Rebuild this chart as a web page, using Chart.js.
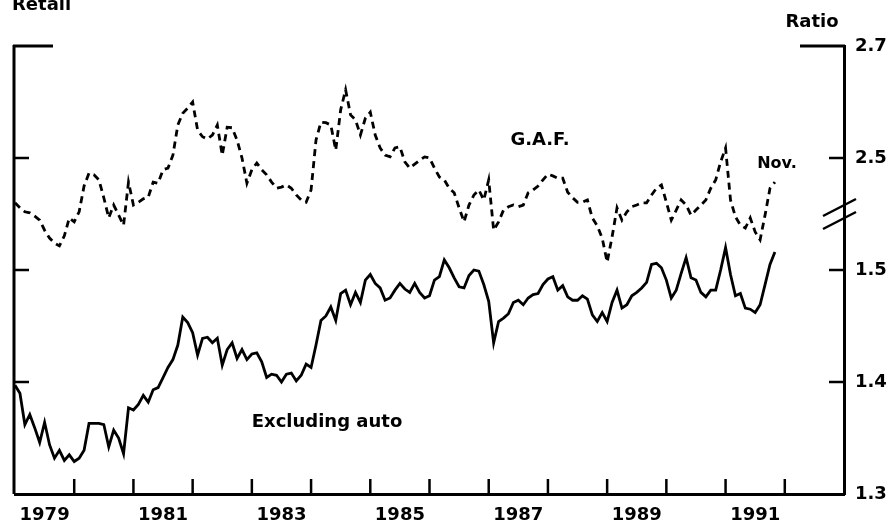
<!DOCTYPE html>
<html>
<head>
<meta charset="utf-8">
<script src="https://cdn.jsdelivr.net/npm/chart.js@4.4.0/dist/chart.umd.min.js"></script>
<style>
  html, body { margin: 0; padding: 0; background: #fff; }
  #wrap { width: 892px; height: 530px; }
</style>
</head>
<body>
<div id="wrap"><canvas id="chart" width="892" height="530"></canvas></div>
<script>
// --- DATA: monthly ratios, Jan 1979 - Nov 1991 ---
const exclAuto = [
  1.397, 1.390, 1.362, 1.371, 1.359, 1.346, 1.364, 1.344, 1.332, 1.339, 1.330, 1.335, // 1979
  1.329, 1.332, 1.339, 1.363, 1.363, 1.363, 1.362, 1.342, 1.357, 1.350, 1.336, 1.377, // 1980
  1.375, 1.380, 1.388, 1.382, 1.393, 1.395, 1.404, 1.413, 1.420, 1.433, 1.458, 1.453, // 1981
  1.444, 1.424, 1.439, 1.440, 1.435, 1.439, 1.415, 1.429, 1.435, 1.421, 1.429, 1.420, // 1982
  1.425, 1.426, 1.418, 1.404, 1.407, 1.406, 1.400, 1.407, 1.408, 1.401, 1.406, 1.416, // 1983
  1.413, 1.433, 1.455, 1.459, 1.467, 1.455, 1.479, 1.482, 1.469, 1.480, 1.471, 1.491, // 1984
  1.496, 1.488, 1.484, 1.473, 1.475, 1.482, 1.488, 1.483, 1.480, 1.488, 1.480, 1.475, // 1985
  1.477, 1.491, 1.494, 1.509, 1.502, 1.493, 1.485, 1.484, 1.495, 1.500, 1.499, 1.487, // 1986
  1.472, 1.435, 1.454, 1.457, 1.461, 1.471, 1.473, 1.469, 1.475, 1.478, 1.479, 1.487, // 1987
  1.492, 1.494, 1.482, 1.486, 1.476, 1.473, 1.473, 1.477, 1.474, 1.460, 1.454, 1.462, // 1988
  1.454, 1.471, 1.482, 1.466, 1.469, 1.477, 1.480, 1.484, 1.489, 1.505, 1.506, 1.502, // 1989
  1.491, 1.475, 1.482, 1.497, 1.511, 1.493, 1.491, 1.480, 1.476, 1.482, 1.482, 1.500, // 1990
  1.520, 1.496, 1.477, 1.479, 1.466, 1.465, 1.462, 1.469, 1.487, 1.505, 1.516          // 1991
];

const gaf = [
  2.420, 2.411, 2.404, 2.402, 2.396, 2.389, 2.371, 2.357, 2.348, 2.343, 2.361, 2.393, // 1979
  2.386, 2.404, 2.450, 2.473, 2.470, 2.461, 2.429, 2.393, 2.416, 2.398, 2.380, 2.457, // 1980
  2.416, 2.421, 2.427, 2.430, 2.457, 2.455, 2.479, 2.482, 2.505, 2.559, 2.580, 2.589, // 1981
  2.600, 2.550, 2.538, 2.534, 2.541, 2.559, 2.505, 2.555, 2.554, 2.532, 2.500, 2.455, // 1982
  2.479, 2.491, 2.479, 2.470, 2.457, 2.446, 2.448, 2.452, 2.446, 2.434, 2.425, 2.421, // 1983
  2.443, 2.532, 2.564, 2.563, 2.559, 2.514, 2.586, 2.622, 2.577, 2.568, 2.541, 2.571, // 1984
  2.582, 2.541, 2.518, 2.505, 2.502, 2.518, 2.520, 2.493, 2.482, 2.489, 2.496, 2.502, // 1985
  2.500, 2.482, 2.466, 2.461, 2.446, 2.438, 2.411, 2.386, 2.416, 2.434, 2.443, 2.425, // 1986
  2.461, 2.371, 2.386, 2.407, 2.413, 2.416, 2.413, 2.416, 2.438, 2.443, 2.450, 2.461, // 1987
  2.471, 2.468, 2.464, 2.464, 2.439, 2.429, 2.421, 2.421, 2.425, 2.393, 2.379, 2.357, // 1988
  2.314, 2.359, 2.411, 2.389, 2.404, 2.413, 2.416, 2.420, 2.420, 2.434, 2.446, 2.452, // 1989
  2.421, 2.389, 2.407, 2.425, 2.416, 2.398, 2.407, 2.416, 2.425, 2.446, 2.461, 2.493, // 1990
  2.518, 2.425, 2.395, 2.380, 2.375, 2.393, 2.368, 2.354, 2.398, 2.446, 2.457          // 1991
];

const firstYear = 1979;
const yearLabels = ['1979', '1981', '1983', '1985', '1987', '1989', '1991'];
// lower scale runs 1.3 - 1.7; the upper part of the axis is relabelled for G.A.F. (scale break)
const rightTickValues = [1.3, 1.4, 1.5, 1.6, 1.7];
const rightTickLabels = ['1.3', '1.4', '1.5', '2.5', '2.7'];

// --- helpers ---
const FONT = 'DejaVu Sans';
const toPoints = arr => arr.map((v, i) => ({ x: i, y: v }));

// frame, inward ticks, scale break and labels drawn on top of the chart
const decorPlugin = {
  id: 'decor',
  afterDraw(chart) {
    const ctx = chart.ctx;
    const { left, right, top, bottom } = chart.chartArea;
    const xs = chart.scales.x;
    const ys = chart.scales.y;
    ctx.save();
    ctx.strokeStyle = '#000';
    ctx.fillStyle = '#000';
    ctx.lineCap = 'butt';

    // left axis line
    ctx.lineWidth = 3;
    ctx.beginPath();
    ctx.moveTo(left - 1, top - 1);
    ctx.lineTo(left - 1, bottom);
    ctx.stroke();

    // top stubs
    ctx.beginPath();
    ctx.moveTo(left - 2, top);
    ctx.lineTo(left + 38, top);
    ctx.moveTo(right - 44, top);
    ctx.lineTo(right + 1, top);
    ctx.stroke();

    // inward ticks on both sides
    ctx.lineWidth = 2.5;
    rightTickValues.slice(1, 4).forEach(v => {
      const y = ys.getPixelForValue(v);
      ctx.beginPath();
      ctx.moveTo(right - 15, y);
      ctx.lineTo(right, y);
      ctx.moveTo(left, y);
      ctx.lineTo(left + 14, y);
      ctx.stroke();
    });

    // year ticks along the bottom
    for (let k = 1; k < 14; k++) {
      const x = xs.getPixelForValue(k * 12);
      ctx.beginPath();
      ctx.moveTo(x, bottom);
      ctx.lineTo(x, bottom - 15);
      ctx.stroke();
    }

    // scale break on the right axis
    const cy = ys.getPixelForValue(1.55);
    ctx.lineWidth = 2.5;
    ctx.beginPath();
    ctx.moveTo(right - 21, cy + 2);
    ctx.lineTo(right + 12, cy - 15);
    ctx.moveTo(right - 21, cy + 15);
    ctx.lineTo(right + 12, cy - 2);
    ctx.stroke();

    // texts
    ctx.font = 'bold 18px "' + FONT + '"';
    ctx.textBaseline = 'alphabetic';
    ctx.textAlign = 'left';
    ctx.fillText('Retail', 12, 10);
    ctx.textAlign = 'center';
    ctx.fillText('Ratio', 812, 27);
    ctx.fillText('G.A.F.', 540, 145);
    ctx.fillText('Excluding auto', 327, 427);
    ctx.font = 'bold 16px "' + FONT + '"';
    ctx.fillText('Nov.', 777, 168);
    ctx.restore();
  }
};

new Chart(document.getElementById('chart'), {
  type: 'line',
  data: {
    datasets: [
      {
        label: 'Excluding auto',
        data: toPoints(exclAuto),
        yAxisID: 'y',
        borderColor: '#000',
        borderWidth: 2.8,
        pointRadius: 0,
        tension: 0
      },
      {
        label: 'G.A.F.',
        data: toPoints(gaf),
        yAxisID: 'yHigh',
        borderColor: '#000',
        borderWidth: 2.8,
        borderDash: [7, 5],
        pointRadius: 0,
        tension: 0
      }
    ]
  },
  options: {
    responsive: false,
    animation: false,
    layout: { padding: { left: 15, top: 46, right: 0, bottom: 0 } },
    plugins: {
      legend: { display: false },
      tooltip: { enabled: false }
    },
    scales: {
      x: {
        type: 'linear',
        min: 0,
        max: 168,
        afterBuildTicks: s => { s.ticks = yearLabels.map((l, i) => ({ value: (Number(l) - firstYear) * 12 + 6 })); },
        afterFit: s => { s.height = 36; },
        grid: { display: false, drawTicks: false },
        border: { display: true, color: '#000', width: 3 },
        ticks: {
          autoSkip: false,
          maxRotation: 0,
          padding: 11,
          color: '#000',
          font: { family: FONT, size: 18, weight: 'bold' },
          callback: (v, i) => yearLabels[i]
        }
      },
      y: {
        position: 'right',
        min: 1.3,
        max: 1.7,
        afterBuildTicks: s => { s.ticks = rightTickValues.map(v => ({ value: v })); },
        afterFit: s => { s.width = 48; },
        grid: { display: false, drawTicks: false },
        border: { display: true, color: '#000', width: 3 },
        ticks: {
          padding: 11,
          color: '#000',
          font: { family: FONT, size: 18, weight: 'bold' },
          callback: (v, i) => rightTickLabels[i]
        }
      },
      yHigh: {
        display: false,
        min: 1.9,
        max: 2.7
      }
    }
  },
  plugins: [decorPlugin]
});
</script>
</body>
</html>
